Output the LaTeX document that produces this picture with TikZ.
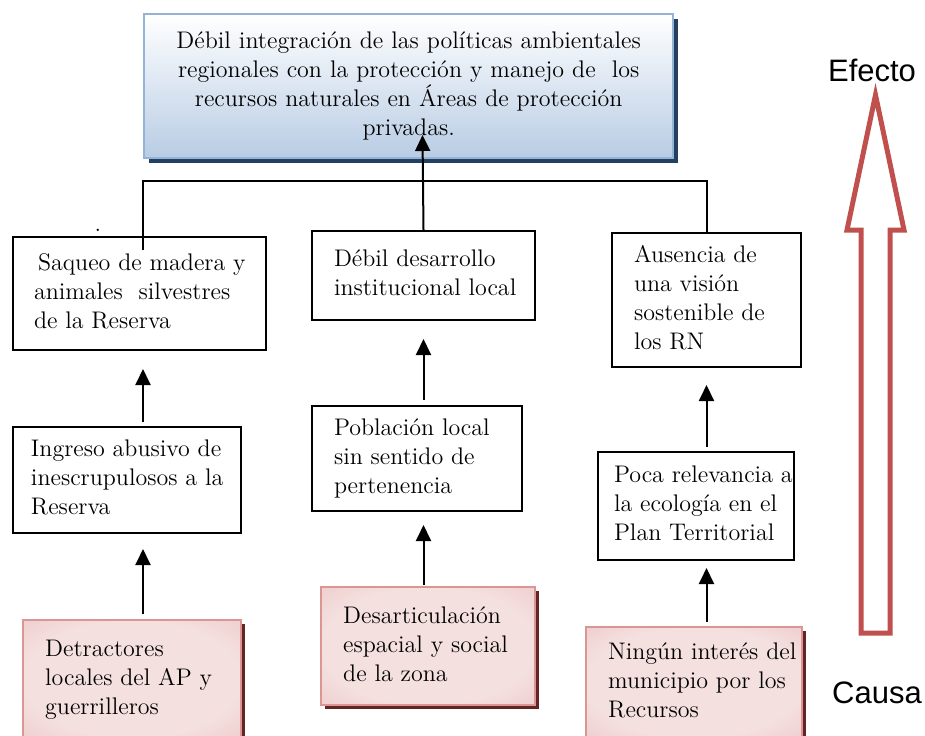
\documentclass[tikz,border=0pt]{standalone}
\usepackage{fontspec}
\newfontfamily\tagsans{Liberation Sans}
\usepackage{tikz}
\usetikzlibrary{arrows.meta, positioning, shadows}
\usepackage{xcolor}
\definecolor{topfill}{RGB}{184,204,228}
\definecolor{topline}{RGB}{149,179,215}
\definecolor{topshadow}{RGB}{36,64,97}
\definecolor{pinkin}{RGB}{244,224,223}
\definecolor{pinkmid}{RGB}{230,184,183}
\definecolor{pinkout}{RGB}{210,136,134}
\definecolor{pinkline}{RGB}{219,150,148}
\definecolor{pinkshadow}{RGB}{99,37,35}
\definecolor{causered}{RGB}{192,80,77}
\newcommand{\tbody}{\fontsize{12}{14.5}\selectfont}
% left-aligned lines in a block of fixed width
\newcommand{\lns}[2]{\makebox[#1][l]{\begin{tabular}{@{}l@{}}#2\end{tabular}}}
\pgfdeclareradialshading{pinkglow}{\pgfpoint{0bp}{0bp}}{color(0bp)=(pinkin); color(25bp)=(pinkin); color(50bp)=(pinkmid); color(71bp)=(pinkout)}

\begin{document}
\begin{tikzpicture}[
  x=0.5pt, y=-0.5pt,
  box/.style={rectangle, draw=black, line width=1pt, anchor=north west,
              inner xsep=11pt, inner ysep=0pt, font=\tbody},
  goal/.style={box, draw=topline, line width=1.2pt, align=center,
               top color=white, bottom color=topfill,
               drop shadow={shadow xshift=2.5pt, shadow yshift=-2.5pt,
                            fill=topshadow, opacity=1}},
  root/.style={box, draw=pinkline, line width=1.2pt, shade, shading=pinkglow,
               drop shadow={shadow xshift=1.8pt, shadow yshift=-1.8pt,
                            fill=pinkshadow, opacity=1}},
  arr/.style={-{Triangle[width=7.5pt, length=8pt]}, line width=1pt},
  link/.style={line width=1pt},
  bigarr/.style={draw=causered, line width=2.5pt, miter limit=10},
  tag/.style={font={\tagsans\fontsize{15.5}{18}\selectfont}}
]
\useasboundingbox (0,0) rectangle (925,735);

% Problem (effect)
\node[goal, text width=242.5pt, minimum height=72pt] (top) at (143,13)
    {Débil integración de las políticas ambientales\\
     regionales con la protección y manejo de~ los\\
     recursos naturales en Áreas de protección\\
     privadas.};

% Direct effects row
\node[box, inner xsep=10.5pt, minimum height=56.5pt] (b1) at (12,236)
    {\lns{105.5pt}{\hspace*{2pt}Saqueo de madera y\\ animales~ silvestres\\ de la Reserva}};
\node[box, minimum height=44.5pt] (b2) at (311,230)
    {\lns{89.5pt}{Débil desarrollo\\ institucional local}};
\node[box, minimum height=67pt] (b3) at (611,232)
    {\lns{72.5pt}{Ausencia de\\ una visión\\ sostenible de\\ los RN}};
\node (dot) at (98,230) {\tbody .};

% Middle row
\node[box, inner xsep=9pt, minimum height=53pt,
      below=37.5pt of b1.south west, anchor=north west] (b4)
    {\lns{96pt}{Ingreso abusivo de\\ inescrupulosos a la\\ Reserva}};
\node[box, minimum height=52.5pt,
      below=42pt of b2.south west, anchor=north west] (b5)
    {\lns{83pt}{Población local\\ sin sentido de\\ pertenencia}};
\node[box, inner xsep=8pt, minimum height=54pt,
      below=41.5pt of b3.south west, anchor=north west, xshift=-7pt] (b6)
    {\lns{82pt}{Poca relevancia a\\ la ecología en el\\ Plan Territorial}};

% Root causes
\node[root, minimum height=59pt,
      below=42.5pt of b4.south west, anchor=north west, xshift=5pt] (b7)
    {\lns{87pt}{Detractores\\ locales del AP y\\ guerrilleros}};
\node[root, minimum height=59pt,
      below=37pt of b5.south west, anchor=north west, xshift=4.5pt] (b8)
    {\lns{85pt}{Desarticulación\\ espacial y social\\ de la zona}};
\node[root, minimum height=55.5pt,
      below=32.5pt of b6.south west, anchor=north west, xshift=-6pt] (b9)
    {\lns{86pt}{Ningún interés del\\ municipio por los\\ Recursos}};

% Joints for the bracket
\coordinate (jl) at (143,250);
\coordinate (bar) at (143,181);
\coordinate (tp) at (422.5,135);

\draw[link] (jl) -- (bar) -| (b3.north);
\draw[arr] (b2.north) -- (tp);

% Upward arrows
\draw[arr, shorten <=2pt, shorten >=9pt] (b4.north -| jl) -- (b1.south -| jl);
\draw[arr, shorten <=2.5pt, shorten >=9pt] (b5.north -| b2.north) -- (b2.south);
\draw[arr, shorten <=2pt, shorten >=8.5pt] (b6.north -| b3.south) -- (b3.south);
\draw[arr, shorten <=2.5pt, shorten >=7.5pt] (b7.north -| jl) -- (b4.south -| jl);
\draw[arr, shorten <=0.5pt, shorten >=6.5pt] (b8.north -| b2.north) -- (b5.south -| b2.north);
\draw[arr, shorten <=2pt, shorten >=3.5pt] (b9.north -| b3.south) -- (b6.south -| b3.south);

% Cause -> effect arrow
\draw[bigarr] (861,633) -- (861,230) -- (847,230) -- (875.5,95)
    -- (904,230) -- (890,230) -- (890,633) -- cycle;
\node[tag] (eff) at (872,70) {Efecto};
\node[tag] (cau) at (877,693) {Causa};
\end{tikzpicture}
\end{document}
